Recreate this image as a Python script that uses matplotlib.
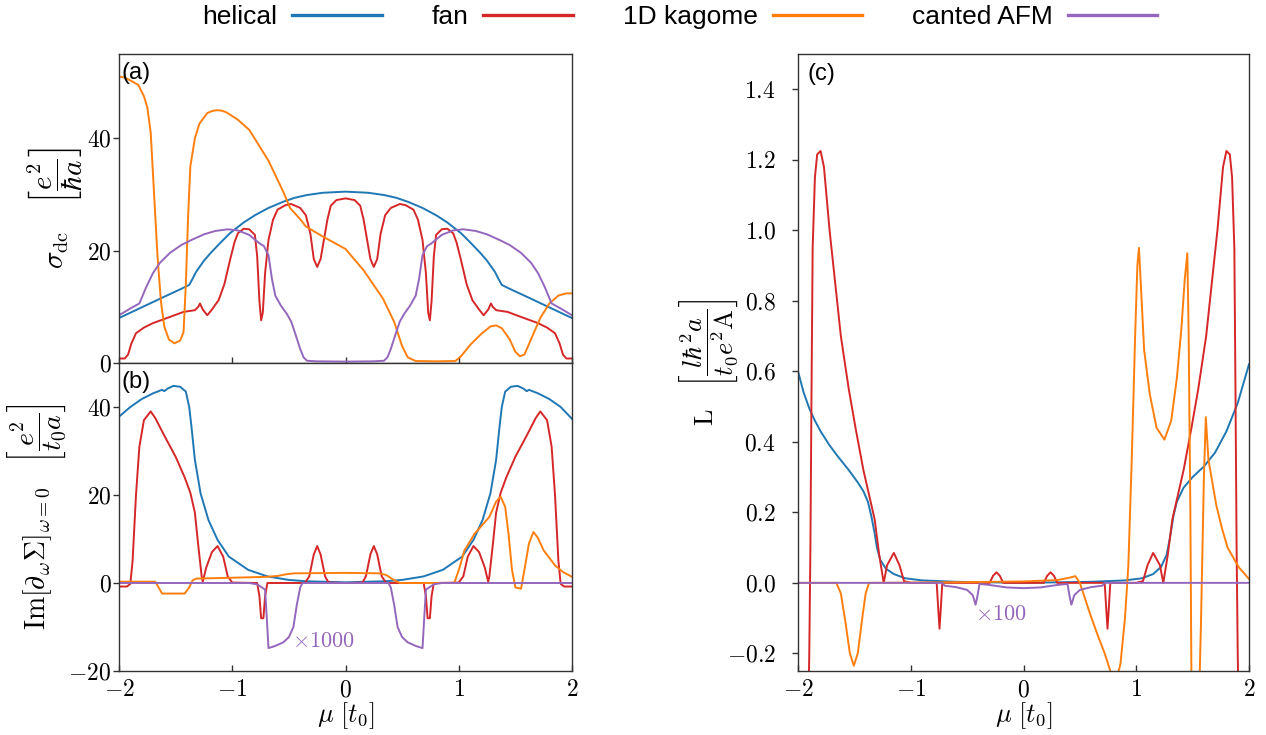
import matplotlib
matplotlib.use('Agg')
import matplotlib.pyplot as plt
from matplotlib.lines import Line2D
from matplotlib.ticker import FuncFormatter, MultipleLocator

plt.rcParams['mathtext.fontset'] = 'cm'
plt.rcParams['font.family'] = ['Liberation Sans', 'DejaVu Sans']

labels = ['helical', 'fan', '1D kagome', 'canted AFM']
colors = ['#1f77b4', '#d62728', '#ff7f0e', '#9467bd']

# ---- panel (a): sigma_dc ----
mu_a_helical = [-2.00, -1.80, -1.60, -1.45, -1.38, -1.35, -1.32, -1.25, -1.19, -1.10, -1.02, -0.90, -0.80,
                -0.68, -0.55, -0.45, -0.34, -0.20, 0.00, 0.20, 0.34, 0.45, 0.55, 0.68, 0.80, 0.90, 1.02,
                1.10, 1.19, 1.25, 1.32, 1.35, 1.38, 1.45, 1.60, 1.80, 2.00]
sig_helical = [8.0, 9.9, 11.8, 13.2, 13.9, 15.0, 16.2, 18.2, 19.6, 21.5, 23.1, 25.0, 26.3,
               27.6, 28.7, 29.4, 29.9, 30.3, 30.5, 30.3, 29.9, 29.4, 28.7, 27.6, 26.3, 25.0, 23.1,
               21.5, 19.6, 18.2, 16.2, 15.0, 13.9, 13.2, 11.8, 9.9, 8.0]

mu_a_fan = [-2.00, -1.95, -1.92, -1.89, -1.85, -1.78, -1.70, -1.55, -1.43, -1.33, -1.30, -1.285, -1.26,
            -1.22, -1.18, -1.12, -1.07, -1.02, -0.98, -0.95, -0.90, -0.85, -0.80, -0.78, -0.76, -0.745,
            -0.73, -0.71, -0.68, -0.64, -0.60, -0.53, -0.48, -0.40, -0.35, -0.31, -0.28, -0.25, -0.22,
            -0.19, -0.16, -0.13, -0.08, 0.00,
            0.08, 0.13, 0.16, 0.19, 0.22, 0.25, 0.28, 0.31, 0.35, 0.40, 0.48, 0.53, 0.60, 0.64, 0.68,
            0.71, 0.73, 0.745, 0.76, 0.78, 0.80, 0.85, 0.90, 0.95, 0.98, 1.02, 1.07, 1.12, 1.18, 1.22,
            1.26, 1.285, 1.30, 1.33, 1.43, 1.55, 1.70, 1.78, 1.85, 1.89, 1.92, 1.95, 2.00]
sig_fan = [0.8, 0.8, 1.5, 3.5, 5.3, 6.3, 7.1, 8.2, 9.1, 9.4, 10.0, 10.6, 9.5,
           8.5, 9.5, 11.2, 14.0, 18.3, 21.5, 23.1, 23.9, 23.8, 22.8, 19.0, 11.0, 7.6,
           9.0, 16.0, 21.9, 25.5, 27.3, 28.1, 28.3, 27.6, 26.3, 23.0, 18.5, 17.1, 18.5,
           22.0, 25.5, 28.0, 29.0, 29.3,
           29.0, 28.0, 25.5, 22.0, 18.5, 17.1, 18.5, 23.0, 26.3, 27.6, 28.3, 28.1, 27.3, 25.5, 21.9,
           16.0, 9.0, 7.6, 11.0, 19.0, 22.8, 23.8, 23.9, 23.1, 21.5, 18.3, 14.0, 11.2, 9.5, 8.5,
           9.5, 10.6, 10.0, 9.4, 9.1, 8.2, 7.1, 6.3, 5.3, 3.5, 1.5, 0.8, 0.8]

mu_a_kagome = [-2.00, -1.95, -1.90, -1.83, -1.78, -1.75, -1.72, -1.69, -1.66, -1.63, -1.60, -1.56, -1.51,
               -1.46, -1.43, -1.41, -1.39, -1.37, -1.33, -1.29, -1.22, -1.17, -1.13, -1.09, -1.05, -0.95,
               -0.85, -0.68, -0.55, -0.49, -0.40, -0.35, -0.20, 0.00, 0.16, 0.33, 0.43, 0.50, 0.55, 0.62,
               0.80, 0.97, 1.02, 1.10, 1.20, 1.28, 1.33, 1.38, 1.45, 1.50, 1.54, 1.58, 1.64, 1.72, 1.80,
               1.88, 1.95, 2.00]
sig_kagome = [51.0, 50.8, 50.3, 49.5, 47.5, 45.5, 41.0, 30.0, 19.0, 11.0, 6.5, 4.2, 3.5,
              4.0, 5.5, 14.0, 26.0, 35.0, 40.0, 42.6, 44.5, 44.9, 45.0, 44.9, 44.6, 43.3,
              41.5, 36.0, 30.5, 27.6, 25.6, 24.3, 22.5, 20.3, 16.5, 11.5, 7.3, 3.0, 1.0, 0.35,
              0.3, 0.35, 1.2, 3.2, 5.2, 6.5, 6.7, 6.2, 4.2, 2.0, 1.2, 1.5, 4.3, 8.0, 10.6,
              12.0, 12.4, 12.4]

mu_a_afm = [-2.00, -1.90, -1.82, -1.76, -1.70, -1.64, -1.55, -1.45, -1.36, -1.25, -1.15, -1.04, -0.95,
            -0.85, -0.76, -0.72, -0.68, -0.65, -0.62, -0.57, -0.52, -0.48, -0.44, -0.40, -0.37, -0.34,
            -0.25, 0.00, 0.25, 0.34, 0.37, 0.40, 0.44, 0.48, 0.52, 0.57, 0.62, 0.65, 0.68, 0.72, 0.76,
            0.85, 0.95, 1.04, 1.15, 1.25, 1.36, 1.45, 1.55, 1.64, 1.70, 1.76, 1.82, 1.90, 2.00]
sig_afm = [8.5, 9.7, 10.6, 13.5, 16.0, 17.8, 19.6, 21.0, 21.9, 22.9, 23.5, 23.8, 23.6,
           22.8, 21.3, 20.8, 19.2, 15.0, 12.0, 10.2, 8.8, 7.4, 5.0, 2.5, 1.0, 0.4,
           0.3, 0.25, 0.3, 0.4, 1.0, 2.5, 5.0, 7.4, 8.8, 10.2, 12.0, 15.0, 19.2, 20.8, 21.3,
           22.8, 23.6, 23.8, 23.5, 22.9, 21.9, 21.0, 19.6, 17.8, 16.0, 13.5, 10.6, 9.7, 8.5]

# ---- panel (b): Im[d_w Sigma] ----
mu_b_helical = [-2.00, -1.90, -1.80, -1.70, -1.62, -1.60, -1.57, -1.52, -1.46, -1.41, -1.38, -1.36, -1.33,
                -1.28, -1.21, -1.13, -1.03, -0.86, -0.69, -0.50, -0.35, 0.00, 0.35, 0.50, 0.69, 0.86,
                1.03, 1.13, 1.21, 1.28, 1.33, 1.36, 1.38, 1.41, 1.46, 1.52, 1.57, 1.60, 1.62, 1.70,
                1.80, 1.90, 2.00]
im_helical = [37.8, 40.0, 41.8, 43.1, 43.9, 43.6, 44.2, 44.8, 44.6, 43.5, 40.0, 35.5, 28.0,
              20.4, 14.3, 9.8, 6.0, 3.0, 1.5, 0.7, 0.4, 0.15, 0.4, 0.7, 1.5, 3.0,
              6.0, 9.8, 14.3, 20.4, 28.0, 35.5, 40.0, 43.5, 44.6, 44.8, 44.2, 43.6, 43.9, 43.1,
              41.8, 40.0, 37.3]

mu_b_fan = [-2.00, -1.93, -1.90, -1.88, -1.85, -1.82, -1.78, -1.72, -1.68, -1.60, -1.50, -1.42, -1.37,
            -1.33, -1.30, -1.27, -1.26, -1.23, -1.18, -1.13, -1.08, -1.04, -1.00, -0.78, -0.76, -0.745,
            -0.725, -0.71, -0.69, -0.36, -0.32, -0.28, -0.25, -0.22, -0.18, -0.15, 0.00,
            0.15, 0.18, 0.22, 0.25, 0.28, 0.32, 0.36, 0.69, 0.71, 0.725, 0.745, 0.76, 0.78,
            1.00, 1.04, 1.08, 1.13, 1.18, 1.23, 1.26, 1.27, 1.30, 1.33, 1.37, 1.42, 1.50,
            1.60, 1.68, 1.72, 1.78, 1.82, 1.85, 1.88, 1.90, 1.93, 2.00]
im_fan = [-0.8, -0.8, -0.2, 5.0, 20.0, 31.0, 37.0, 39.0, 37.5, 33.5, 28.7, 24.0, 20.5,
          16.0, 8.5, 1.5, 0.3, 3.5, 7.0, 8.4, 6.0, 1.5, 0.1, 0.0, -3.0, -8.0,
          -8.0, -3.0, 0.0, 0.0, 1.5, 6.5, 8.4, 6.5, 1.5, 0.1, 0.0,
          0.1, 1.5, 6.5, 8.4, 6.5, 1.5, 0.0, 0.0, -3.0, -8.0, -8.0, -3.0, 0.0,
          0.1, 1.5, 6.0, 8.4, 7.0, 3.5, 0.3, 1.5, 8.5, 16.0, 20.5, 24.0, 28.7,
          33.5, 37.5, 39.0, 37.0, 31.0, 20.0, 5.0, -0.2, -0.8, -0.8]

mu_b_kagome = [-2.00, -1.68, -1.65, -1.62, -1.42, -1.38, -1.35, -1.32, -1.00, -0.70, -0.60, -0.52, -0.45,
               0.00, 0.30, 0.36, 0.42, 0.48, 0.96, 1.00, 1.05, 1.14, 1.27, 1.33, 1.37, 1.41, 1.44,
               1.47, 1.50, 1.55, 1.58, 1.62, 1.66, 1.70, 1.75, 1.85, 1.92, 2.00]
im_kagome = [0.3, 0.3, -1.0, -2.4, -2.4, -1.0, 0.6, 1.0, 1.2, 1.4, 1.6, 2.0, 2.2,
             2.3, 2.2, 1.8, 0.8, 0.0, 0.0, 2.9, 7.4, 11.2, 15.0, 18.5, 19.6, 17.3, 11.0,
             3.0, -1.0, -1.3, 3.0, 9.0, 11.6, 10.2, 7.4, 4.0, 2.5, 1.4]

mu_b_afm = [-2.00, -0.85, -0.78, -0.71, -0.695, -0.68, -0.62, -0.55, -0.50, -0.46, -0.43, -0.40, -0.38,
            0.38, 0.40, 0.43, 0.46, 0.50, 0.55, 0.62, 0.68, 0.695, 0.71, 0.78, 0.85, 2.00]
im_afm = [0.0, 0.0, -0.3, -1.5, -8.0, -14.8, -14.3, -13.5, -12.3, -10.0, -5.0, -1.0, 0.0,
          0.0, -1.0, -5.0, -10.0, -12.3, -13.5, -14.3, -14.8, -8.0, -1.5, -0.3, 0.0, 0.0]

# ---- panel (c): L ----
mu_c_helical = [-2.00, -1.95, -1.90, -1.85, -1.80, -1.72, -1.65, -1.55, -1.47, -1.42, -1.38, -1.35, -1.32,
                -1.30, -1.27, -1.22, -1.15, -1.05, -0.90, -0.60, 0.00, 0.60, 0.90, 1.05, 1.15, 1.22,
                1.27, 1.30, 1.33, 1.36, 1.42, 1.50, 1.60, 1.70, 1.80, 1.90, 2.00]
L_helical = [0.60, 0.54, 0.495, 0.46, 0.43, 0.39, 0.36, 0.32, 0.285, 0.26, 0.23, 0.19, 0.14,
             0.10, 0.065, 0.04, 0.025, 0.013, 0.007, 0.003, 0.0, 0.003, 0.007, 0.013, 0.025, 0.045,
             0.08, 0.13, 0.19, 0.23, 0.27, 0.30, 0.33, 0.37, 0.43, 0.51, 0.62]

mu_c_fan = [-2.00, -1.95, -1.92, -1.90, -1.89, -1.88, -1.87, -1.85, -1.83, -1.80, -1.77, -1.72, -1.67,
            -1.62, -1.55, -1.49, -1.42, -1.37, -1.32, -1.28, -1.24, -1.21, -1.15, -1.10, -1.06, -1.00,
            -0.77, -0.755, -0.745, -0.735, -0.72, -0.30, -0.27, -0.24, -0.21, -0.18, 0.00,
            0.18, 0.21, 0.24, 0.27, 0.30, 0.72, 0.735, 0.745, 0.755, 0.77,
            1.00, 1.06, 1.10, 1.15, 1.21, 1.24, 1.28, 1.32, 1.37, 1.42, 1.49, 1.55, 1.62,
            1.67, 1.72, 1.77, 1.80, 1.83, 1.85, 1.87, 1.88, 1.89, 1.90, 1.92, 1.95, 2.00]
L_fan = [-3.0, -1.2, -0.6, -0.2, 0.1, 0.55, 0.95, 1.15, 1.215, 1.225, 1.18, 1.0, 0.85,
         0.70, 0.55, 0.44, 0.32, 0.25, 0.18, 0.08, 0.0, 0.05, 0.085, 0.05, 0.005, 0.0,
         0.0, -0.08, -0.13, -0.08, 0.0, 0.0, 0.02, 0.03, 0.02, 0.0, 0.0,
         0.0, 0.02, 0.03, 0.02, 0.0, 0.0, -0.08, -0.13, -0.08, 0.0,
         0.0, 0.005, 0.05, 0.085, 0.05, 0.0, 0.08, 0.18, 0.25, 0.32, 0.44, 0.55, 0.70,
         0.85, 1.0, 1.18, 1.225, 1.215, 1.15, 0.95, 0.55, 0.1, -0.2, -0.6, -1.2, -3.0]

mu_c_kagome = [-2.00, -1.66, -1.62, -1.58, -1.54, -1.505, -1.47, -1.43, -1.40, -1.37, -0.50, 0.00, 0.30,
               0.40, 0.46, 0.50, 0.59, 0.66, 0.72, 0.78, 0.82, 0.86, 0.90, 0.93, 0.96, 0.99, 1.01,
               1.024, 1.04, 1.07, 1.12, 1.18, 1.25, 1.31, 1.36, 1.40, 1.43, 1.453, 1.465, 1.48, 1.49,
               1.56, 1.575, 1.60, 1.617, 1.64, 1.71, 1.76, 1.81, 1.91, 2.00]
L_kagome = [0.0, 0.0, -0.03, -0.11, -0.20, -0.235, -0.20, -0.10, -0.03, 0.0, 0.002, 0.004, 0.008,
            0.014, 0.019, 0.0, -0.088, -0.15, -0.20, -0.26, -0.28, -0.23, -0.10, 0.05, 0.35, 0.70, 0.90,
            0.95, 0.85, 0.66, 0.535, 0.44, 0.406, 0.46, 0.58, 0.72, 0.86, 0.935, 0.70, 0.20, -0.30,
            -0.30, -0.10, 0.30, 0.47, 0.35, 0.22, 0.155, 0.10, 0.044, 0.011]

mu_c_afm = [-2.00, -0.72, -0.70, -0.60, -0.50, -0.45, -0.425, -0.41, -0.39, -0.30, -0.15, 0.00,
            0.15, 0.30, 0.39, 0.41, 0.425, 0.45, 0.50, 0.60, 0.70, 0.72, 2.00]
L_afm = [0.0, 0.0, -0.008, -0.012, -0.02, -0.035, -0.062, -0.04, -0.003, -0.006, -0.013, -0.015,
         -0.013, -0.006, -0.003, -0.04, -0.062, -0.035, -0.02, -0.012, -0.008, 0.0, 0.0]

W, H = 1266, 735
fig = plt.figure(figsize=(W / 100, H / 100), dpi=100)
ax_a = fig.add_axes([119 / W, 1 - 363 / H, 453 / W, 309 / H])
ax_b = fig.add_axes([119 / W, 1 - 671 / H, 453 / W, 308 / H])
ax_c = fig.add_axes([798 / W, 1 - 671 / H, 451 / W, 617 / H])

lw = 1.4
panel_a = [(mu_a_helical, sig_helical), (mu_a_fan, sig_fan), (mu_a_kagome, sig_kagome), (mu_a_afm, sig_afm)]
panel_b = [(mu_b_helical, im_helical), (mu_b_fan, im_fan), (mu_b_kagome, im_kagome), (mu_b_afm, im_afm)]
panel_c = [(mu_c_helical, L_helical), (mu_c_fan, L_fan), (mu_c_kagome, L_kagome), (mu_c_afm, L_afm)]

for ax, series in [(ax_a, panel_a), (ax_b, panel_b), (ax_c, panel_c)]:
    for (x, y), c in zip(series, colors):
        ax.plot(x, y, color=c, lw=lw)

ax_a.set_ylim(0, 55)
ax_b.set_ylim(-20, 50)
ax_c.set_ylim(-0.25, 1.5)

int_fmt = FuncFormatter(lambda v, p: '$%g$' % v)
one_fmt = FuncFormatter(lambda v, p: '$%.1f$' % v)

for ax in (ax_a, ax_b, ax_c):
    ax.set_xlim(-2, 2)
    ax.xaxis.set_major_locator(MultipleLocator(1))
    ax.xaxis.set_major_formatter(int_fmt)
    ax.tick_params(axis='x', direction='in', length=4, width=1, color='#333333', labelsize=17, pad=6)
    ax.tick_params(axis='y', direction='out', length=4, width=1, color='#333333', labelsize=17, pad=1.5)
    for s in ax.spines.values():
        s.set_color('#333333')
        s.set_linewidth(1.0)

ax_a.yaxis.set_major_locator(MultipleLocator(20))
ax_a.yaxis.set_major_formatter(int_fmt)
ax_a.tick_params(axis='x', labelbottom=False)
ax_b.yaxis.set_major_locator(MultipleLocator(20))
ax_b.yaxis.set_major_formatter(int_fmt)
ax_c.yaxis.set_major_locator(MultipleLocator(0.2))
ax_c.yaxis.set_major_formatter(one_fmt)
ax_c.tick_params(axis='y', pad=12)

ax_a.set_ylabel(r'$\sigma_{\rm dc}\quad\left[\dfrac{e^2}{\hbar a}\right]$', fontsize=21, va='center')
ax_a.yaxis.set_label_coords(-0.141, 0.5)
ax_b.set_ylabel(r'$\mathrm{Im}[\partial_\omega\Sigma]_{\omega=0}\quad\left[\dfrac{e^2}{t_0 a}\right]$',
                fontsize=20, va='center')
ax_b.yaxis.set_label_coords(-0.181, 0.5)
ax_c.set_ylabel(r'$\mathrm{L}\quad\left[\dfrac{l\hbar^2 a}{t_0 e^2 \mathrm{A}}\right]$', fontsize=19, va='center')
ax_c.yaxis.set_label_coords(-0.197, 0.5)

ax_b.set_xlabel(r'$\mu\ [t_0]$', fontsize=19, va='center')
ax_b.xaxis.set_label_coords(0.5, -0.146)
ax_c.set_xlabel(r'$\mu\ [t_0]$', fontsize=19, va='center')
ax_c.xaxis.set_label_coords(0.5, -0.073)

ax_a.text(0.006, 0.975, '(a)', transform=ax_a.transAxes, fontsize=17, va='top', ha='left')
ax_b.text(0.006, 0.975, '(b)', transform=ax_b.transAxes, fontsize=17, va='top', ha='left')
ax_c.text(0.022, 0.985, '(c)', transform=ax_c.transAxes, fontsize=17, va='top', ha='left')

ax_b.text(-0.47, -13.2, r'$\times1000$', color=colors[3], fontsize=16, va='center', ha='left')
ax_c.text(-0.43, -0.09, r'$\times100$', color=colors[3], fontsize=16, va='center', ha='left')

handles = [Line2D([], [], color=c, lw=2.4) for c in colors]
fig.legend(handles, labels, loc='center', bbox_to_anchor=(680 / W, 1 - 17 / H), ncol=4, frameon=False,
           markerfirst=False, fontsize=19, handlelength=3.4, handletextpad=0.55, columnspacing=1.9,
           borderpad=0, borderaxespad=0)

fig.savefig('out.png', dpi=100)
